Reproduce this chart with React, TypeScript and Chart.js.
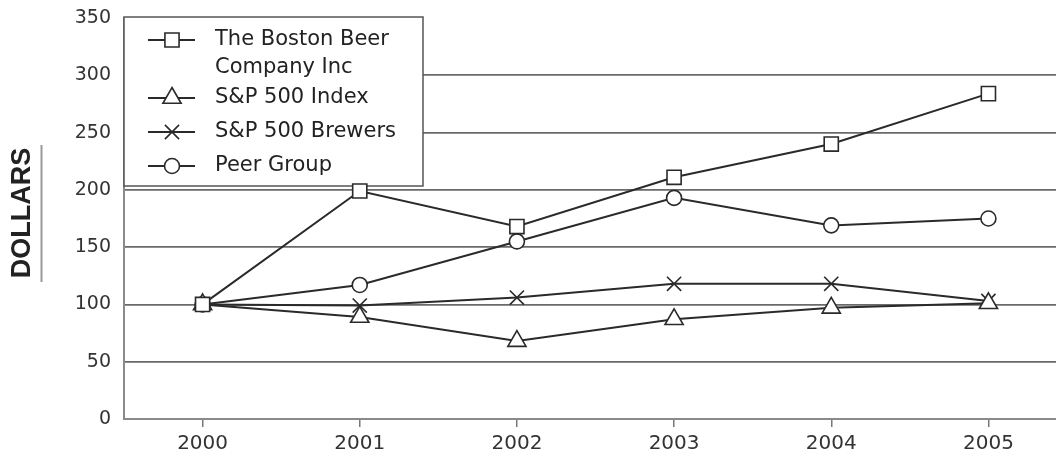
import React, { useEffect, useRef } from 'react';
import { Chart, registerables } from 'chart.js';
import { drawPoint } from 'chart.js/helpers';

Chart.register(...registerables);

const years = ['2000', '2001', '2002', '2003', '2004', '2005'];
const bostonBeer = [100, 199, 168, 211, 240, 284];
const sp500Index = [100, 89, 68, 87, 97, 101];
const sp500Brewers = [100, 99, 106, 118, 118, 103];
const peerGroup = [100, 117, 155, 193, 169, 175];
const yTicks = [0, 50, 100, 150, 200, 250, 300, 350];
const seriesNames = [['The Boston Beer', 'Company Inc'], ['S&P 500 Index'], ['S&P 500 Brewers'], ['Peer Group']];
const axisTitle = 'DOLLARS';

const LINE = '#2a2a2a';

const legendPlugin = {
  id: 'insideLegend',
  beforeDatasetsDraw(chart: any) {
    const { ctx, chartArea } = chart;
    const left = chartArea.left;
    const top = chartArea.top - 1;
    const w = 299;
    const h = 169;
    ctx.save();
    ctx.fillStyle = '#ffffff';
    ctx.fillRect(left, top, w, h);
    ctx.strokeStyle = '#555';
    ctx.lineWidth = 1.5;
    ctx.strokeRect(left, top, w, h);
    const rows = [23, 81, 115, 149];
    ctx.font = '21px "DejaVu Sans"';
    ctx.textBaseline = 'middle';
    ctx.textAlign = 'left';
    chart.data.datasets.forEach((ds: any, i: number) => {
      const y = top + rows[i];
      ctx.strokeStyle = ds.borderColor;
      ctx.lineWidth = ds.borderWidth;
      ctx.beginPath();
      ctx.moveTo(left + 24, y);
      ctx.lineTo(left + 71, y);
      ctx.stroke();
      ctx.fillStyle = ds.pointBackgroundColor;
      ctx.strokeStyle = ds.pointBorderColor;
      ctx.lineWidth = ds.pointBorderWidth;
      drawPoint(ctx, { pointStyle: ds.pointStyle, radius: ds.pointRadius, rotation: 0, borderWidth: ds.pointBorderWidth } as any, left + 48, y);
      ctx.fillStyle = '#222';
      seriesNames[i].forEach((line, j) => ctx.fillText(line, left + 91, y + j * 28));
    });
    ctx.restore();
  },
};

const titlePlugin = {
  id: 'yTitle',
  afterDraw(chart: any) {
    const { ctx } = chart;
    ctx.save();
    ctx.translate(23, 213);
    ctx.rotate(-Math.PI / 2);
    ctx.font = 'bold 27px "Liberation Sans"';
    ctx.fillStyle = '#222';
    ctx.textAlign = 'center';
    ctx.textBaseline = 'middle';
    ctx.fillText(axisTitle, 0, 0);
    ctx.restore();
    ctx.save();
    ctx.strokeStyle = '#999';
    ctx.lineWidth = 2;
    ctx.beginPath();
    ctx.moveTo(41.5, 145);
    ctx.lineTo(41.5, 282);
    ctx.stroke();
    ctx.restore();
  },
};

function makeSet(label: string, data: number[], pointStyle: string, radius: number) {
  return {
    label,
    data,
    borderColor: LINE,
    borderWidth: 2,
    pointStyle,
    pointRadius: radius,
    pointBackgroundColor: '#ffffff',
    pointBorderColor: LINE,
    pointBorderWidth: 1.6,
    tension: 0,
    fill: false,
  };
}

export default function App() {
  const ref = useRef<HTMLCanvasElement>(null);
  useEffect(() => {
    if (!ref.current) return;
    const chart = new Chart(ref.current, {
      type: 'line',
      data: {
        labels: years,
        datasets: [
          makeSet(seriesNames[0].join(' '), bostonBeer, 'rect', 10),
          makeSet(seriesNames[1].join(' '), sp500Index, 'triangle', 10.5),
          makeSet(seriesNames[2].join(' '), sp500Brewers, 'crossRot', 10),
          makeSet(seriesNames[3].join(' '), peerGroup, 'circle', 7.5),
        ] as any,
      },
      options: {
        responsive: false,
        animation: false,
        events: [],
        layout: { padding: { top: 18, right: 13, left: 0, bottom: 0 } },
        plugins: { legend: { display: false }, tooltip: { enabled: false } },
        scales: {
          x: {
            type: 'category',
            offset: true,
            grid: { drawOnChartArea: false, drawTicks: true, tickLength: 8, color: '#777', lineWidth: 1.5 },
            border: { display: true, color: '#8a8a8a', width: 2 },
            ticks: { color: '#333', font: { family: 'DejaVu Sans', size: 20 }, padding: 5, maxRotation: 0 },
            afterFit: (s: any) => { s.height = 38; s.paddingLeft = 0; s.paddingRight = 0; },
          },
          y: {
            min: yTicks[0],
            max: yTicks[yTicks.length - 1],
            ticks: { stepSize: yTicks[1] - yTicks[0], color: '#333', font: { family: 'DejaVu Sans', size: 19 }, padding: 13 },
            grid: {
              drawTicks: false,
              lineWidth: 1.8,
              color: (c: any) => (c.tick && (c.tick.value === yTicks[0] || c.tick.value === yTicks[yTicks.length - 1]) ? 'rgba(0,0,0,0)' : '#6a6a6a'),
            },
            border: { display: true, color: '#8a8a8a', width: 2 },
            afterFit: (s: any) => { s.width = 124; s.paddingTop = 0; s.paddingBottom = 0; },
          },
        },
      } as any,
      plugins: [legendPlugin, titlePlugin],
    });
    return () => chart.destroy();
  }, []);
  return (
    <div style={{ position: 'fixed', left: 0, top: 0, width: 1080, height: 457, background: '#fff' }}>
      <canvas ref={ref} width={1080} height={457} style={{ display: 'block' }} />
    </div>
  );
}
